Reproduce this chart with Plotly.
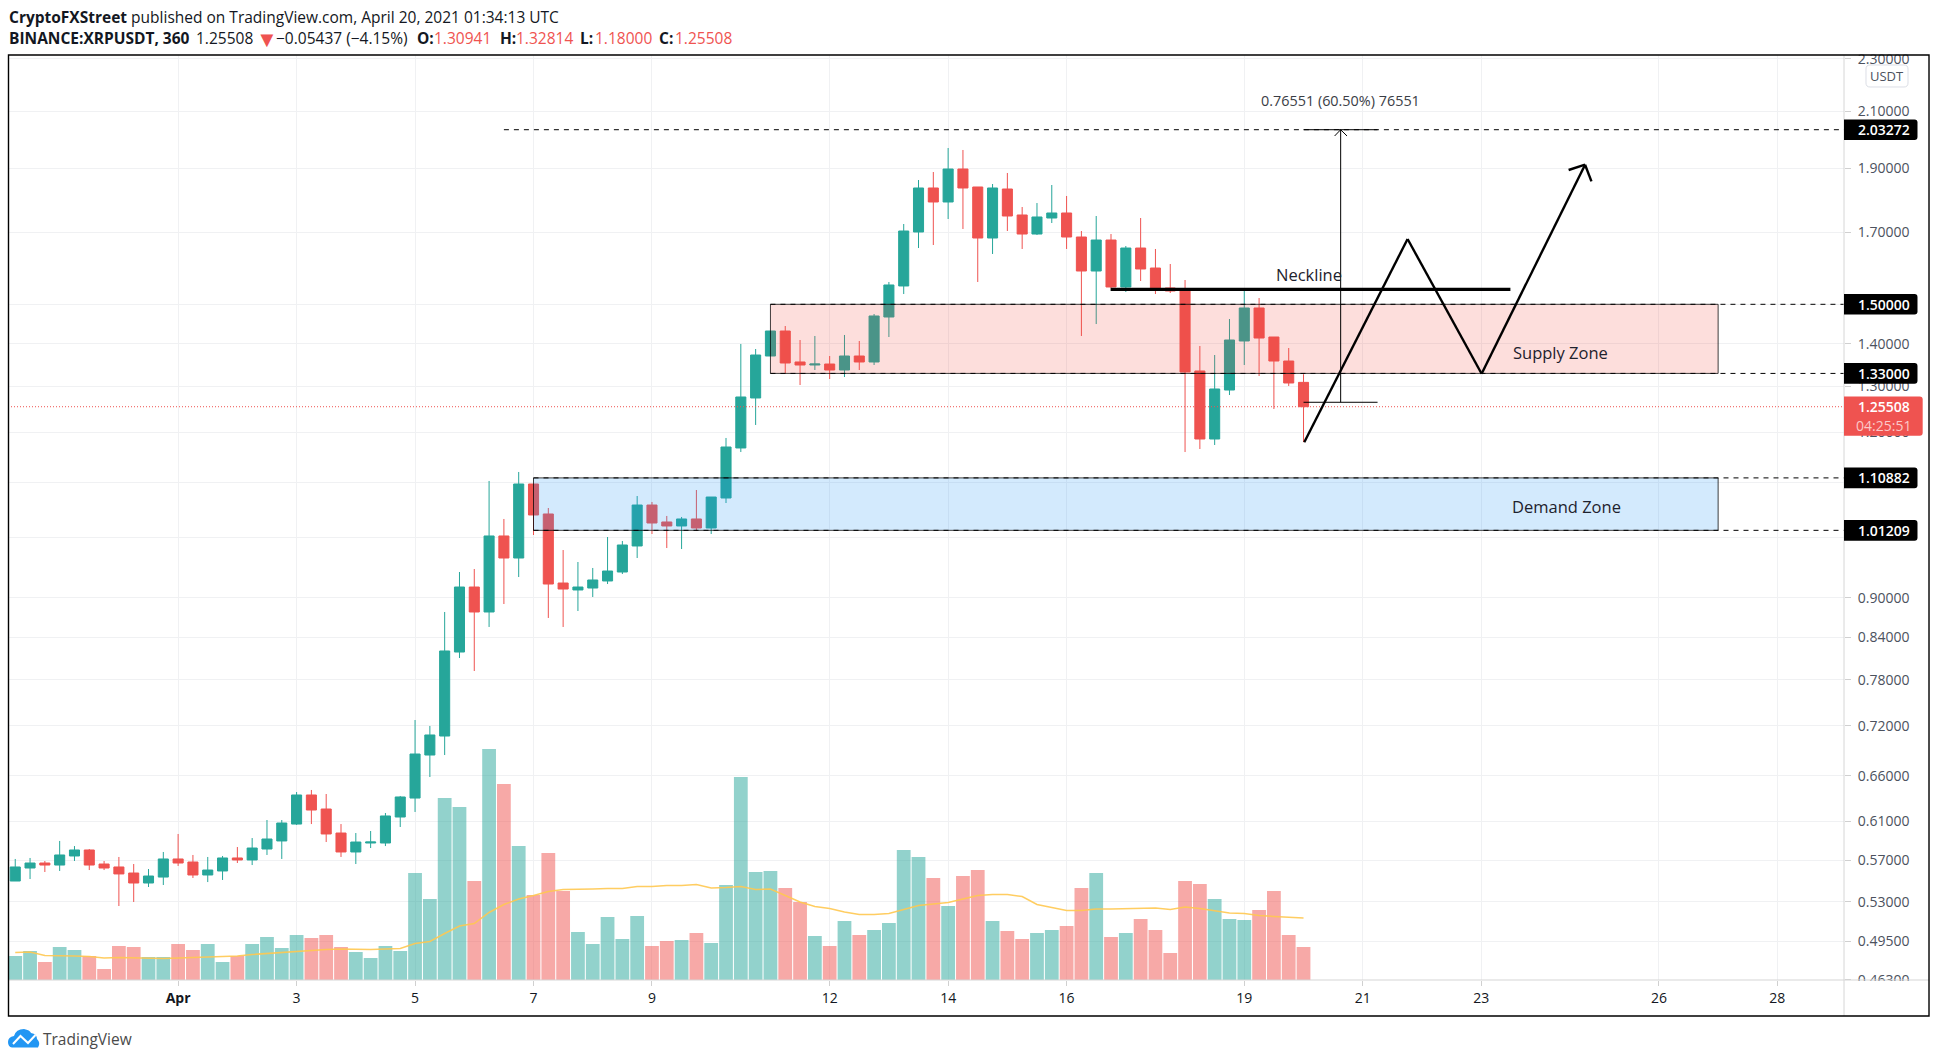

from datetime import datetime, timedelta
import math
import plotly.graph_objects as go

# ---------- data (6h bars, first bar 2021-03-29 06:00) ----------
FIRST_BAR = "2021-03-29 06:00"
opens = [0.5497,0.5623,0.5672,0.5652,0.5742,0.5802,0.5662,0.5633,0.5574,0.5478,0.5535,0.5712,0.5682,0.5555,
 0.5594,0.5722,0.5702,0.5812,0.5894,0.6070,0.6385,0.6231,0.5976,0.5782,0.5873,0.5873,0.6145,0.6351,
 0.6845,0.7075,0.8189,0.9170,0.8780,1.0022,0.9645,1.0971,1.0413,0.9234,0.9123,0.9154,0.9267,0.9413,
 0.9849,1.0577,1.0269,1.0198,1.0323,1.0162,1.0707,1.1681,1.2743,1.3709,1.4319,1.3567,1.3496,1.3519,
 1.3379,1.3709,1.3567,1.4672,1.5486,1.7012,1.8366,1.7924,1.8983,1.8398,1.6835,1.8334,1.7523,1.6952,
 1.7431,1.7584,1.6864,1.5895,1.6776,1.5459,1.6544,1.5978,1.5432,1.5378,1.3356,1.1865,1.2921,1.4072,
 1.4904,1.4170,1.3590,1.30941]
highs = [0.5712,0.5722,0.5692,0.5894,0.5842,0.5812,0.5692,0.5732,0.5662,0.5613,0.5782,0.5966,0.5752,0.5732,
 0.5742,0.5832,0.5924,0.6113,0.6113,0.6418,0.6441,0.6396,0.6070,0.5976,0.5997,0.6188,0.6374,0.7275,
 0.7200,0.8780,0.9413,0.9462,1.1029,1.0323,1.1203,1.0971,1.0522,0.9780,0.9578,0.9479,1.0004,0.9935,
 1.0744,1.0633,1.0377,1.0359,1.0857,1.0725,1.1886,1.3999,1.3877,1.4319,1.4444,1.4096,1.4195,1.3709,
 1.4220,1.4072,1.4749,1.5594,1.7250,1.8623,1.8884,1.9690,1.9622,1.8398,1.8494,1.8852,1.7768,1.7892,
 1.8462,1.8112,1.7041,1.7492,1.6952,1.6602,1.7431,1.6516,1.6090,1.5648,1.3950,1.3733,1.4621,1.5351,
 1.5165,1.4170,1.3901,1.32814]
lows = [0.5497,0.5516,0.5584,0.5594,0.5692,0.5603,0.5603,0.5263,0.5300,0.5440,0.5459,0.5643,0.5526,0.5487,
 0.5507,0.5672,0.5652,0.5752,0.5712,0.6060,0.6070,0.5883,0.5732,0.5662,0.5822,0.5842,0.6039,0.6199,
 0.6588,0.6845,0.8104,0.7923,0.8554,0.8903,0.9331,1.0039,0.8689,0.8554,0.8795,0.9012,0.9218,0.9380,
 0.9645,1.0057,0.9814,0.9797,1.0109,1.0057,1.0614,1.1599,1.2158,1.3709,1.3302,1.3034,1.3379,1.3171,
 1.3217,1.3379,1.3496,1.4170,1.5271,1.6544,1.6631,1.7401,1.7101,1.5594,1.6373,1.7041,1.6516,1.6923,
 1.7280,1.6516,1.4195,1.4494,1.5432,1.5325,1.5621,1.5271,1.5298,1.1599,1.1660,1.1742,1.2809,1.3496,
 1.3240,1.2501,1.3012,1.18000]
closes = [0.5633,0.5672,0.5652,0.5752,0.5802,0.5652,0.5623,0.5565,0.5478,0.5545,0.5712,0.5672,0.5555,0.5603,
 0.5722,0.5702,0.5822,0.5914,0.6081,0.6385,0.6220,0.5966,0.5782,0.5883,0.5883,0.6156,0.6363,0.6857,
 0.7088,0.8204,0.9170,0.8780,1.0022,0.9645,1.0971,1.0395,0.9218,0.9138,0.9170,0.9283,0.9429,0.9866,
 1.0577,1.0251,1.0198,1.0323,1.0162,1.0725,1.1701,1.2765,1.3733,1.4319,1.3543,1.3496,1.3519,1.3379,
 1.3709,1.3567,1.4698,1.5513,1.7041,1.8366,1.7924,1.8983,1.8366,1.6835,1.8366,1.7492,1.6952,1.7462,
 1.7584,1.6864,1.5895,1.6776,1.5459,1.6544,1.5951,1.5378,1.5351,1.3333,1.1865,1.2944,1.4096,1.4904,
 1.4145,1.3590,1.3080,1.25508]
volumes = [48,58,36,66,60,48,22,68,66,46,46,72,60,72,36,48,72,86,64,90,84,90,
 66,56,44,68,58,214,162,364,346,198,462,392,268,170,254,178,96,72,126,82,128,68,
 78,80,94,74,190,406,216,218,184,156,88,68,118,90,100,114,260,246,204,148,208,220,
 118,98,82,94,100,108,184,214,86,94,122,100,54,198,192,162,122,120,140,178,90,66]
volume_ma = [55,56,49,49,48,47,44,45,44,43,43,44,45,47,47,48,51,53,55,58,59,61,62,61,61,62,63,73,77,93,108,113,135,151,162,169,177,181,181,182,183,183,187,187,189,189,191,184,185,187,181,182,169,156,147,143,136,131,131,133,141,149,152,155,162,169,171,171,167,151,145,139,139,142,142,143,144,144,141,146,143,139,134,133,129,127,126,124]

price_ticks = [2.30,2.10,1.90,1.70,1.50,1.40,1.30,1.20,1.10,1.00,0.90,0.84,0.78,0.72,0.66,0.61,0.57,0.53,0.495,0.463]
price_hidden = [1.50,1.10,1.00]
date_ticks = ["2021-04-01","2021-04-03","2021-04-05","2021-04-07","2021-04-09","2021-04-12","2021-04-14","2021-04-16","2021-04-19","2021-04-21","2021-04-23","2021-04-26","2021-04-28"]
date_labels = ["<b>Apr</b>","3","5","7","9","12","14","16","19","21","23","26","28"]
last_price = 1.25508
supply_zone = (1.33, 1.50)
demand_zone = (1.01209, 1.10882)
target_price = 2.03272
level_labels = [2.03272, 1.50, 1.33, 1.10882, 1.01209]

# drawings: (time, price)
path_times  = ["2021-04-20 00:18","2021-04-21 18:10","2021-04-23 00:10","2021-04-24 18:05"]
path_prices = [1.1797, 1.6806, 1.3293, 1.9126]
barb_times  = ["2021-04-24 11:25","2021-04-24 20:40"]
barb_prices = [1.8950, 1.8581]
neck_times  = ["2021-04-16 17:50","2021-04-23 11:50"]
neck_price  = 1.5397
measure_time = "2021-04-20 15:03"
measure_span = ["2021-04-20 00:00","2021-04-21 06:00"]
measure_prices = [1.2648, 2.0327]
measure_barbs = ["2021-04-20 12:36","2021-04-20 17:38"]
measure_barb_price = 2.0106
supply_span = ["2021-04-11 00:00","2021-04-27 00:00"]
demand_span = ["2021-04-07 00:00","2021-04-27 00:00"]
target_start = "2021-04-06 12:00"
x_range = ["2021-03-29 03:04","2021-04-29 03:00"]
y_range = [0.4627, 2.3150]

W, H = 1938, 1062
L, R, T, B = 8, 1844, 55, 980
PW, PH = R - L, B - T
px = lambda x: (x - L) / PW
py = lambda y: (B - y) / PH

start = datetime.strptime(FIRST_BAR, "%Y-%m-%d %H:%M")
times = [(start + timedelta(hours=6 * i)).strftime("%Y-%m-%d %H:%M") for i in range(len(opens))]

UP, DOWN = "#26a69a", "#ef5350"
UPV, DOWNV = "rgba(38,166,154,0.5)", "rgba(239,83,80,0.5)"
FONT = "Open Sans"

fig = go.Figure()
fig.add_bar(x=times, y=volumes, yaxis="y", xaxis="x",
            marker=dict(color=[UPV if c >= o else DOWNV for o, c in zip(opens, closes)], line_width=0),
            hoverinfo="skip")
fig.add_scatter(x=times, y=volume_ma, yaxis="y", xaxis="x", mode="lines",
                line=dict(color="rgba(255,200,80,0.9)", width=1.5), hoverinfo="skip")
fig.add_candlestick(x=times, open=opens, high=highs, low=lows, close=closes, yaxis="y2", xaxis="x",
                    increasing=dict(line=dict(color=UP, width=1), fillcolor=UP),
                    decreasing=dict(line=dict(color=DOWN, width=1), fillcolor=DOWN),
                    whiskerwidth=0, hoverinfo="skip")

shapes = []
def dline(x0, y0, x1, y1, width=1, color="#000000", dash="solid"):
    shapes.append(dict(type="line", xref="x", yref="y2", x0=x0, y0=y0, x1=x1, y1=y1, layer="above",
                       line=dict(color=color, width=width, dash=dash)))

def zone(span, lo, hi, fill):
    shapes.append(dict(type="rect", xref="x", yref="y2", x0=span[0], x1=span[1], y0=lo, y1=hi, layer="above",
                       fillcolor=fill, line=dict(color="rgba(0,0,0,0.75)", width=1)))
    for p in (lo, hi):
        dline(span[0], p, x_range[1], p, dash="5px,5px")

zone(supply_span, supply_zone[0], supply_zone[1], "rgba(244,67,54,0.175)")
zone(demand_span, demand_zone[0], demand_zone[1], "rgba(33,150,243,0.2)")
dline(target_start, target_price, x_range[1], target_price, dash="5px,5px")
dline(x_range[0], last_price, x_range[1], last_price, color=DOWN, dash="1px,2px")

# measuring tool
dline(measure_time, measure_prices[0], measure_time, measure_prices[1])
for p in measure_prices:
    dline(measure_span[0], p, measure_span[1], p)
for t in measure_barbs:
    dline(t, measure_barb_price, measure_time, measure_prices[1])

# neckline + projected path
dline(neck_times[0], neck_price, neck_times[1], neck_price, width=3.2)
for i in range(len(path_times) - 1):
    dline(path_times[i], path_prices[i], path_times[i + 1], path_prices[i + 1], width=2.4)
for t, p in zip(barb_times, barb_prices):
    dline(t, p, path_times[-1], path_prices[-1], width=2.4)

# --- page furniture in page pixels ---
def ppath(cmds, fill, line=None, lw=0):
    out = []
    for c in cmds:
        if c[0] == "Z":
            out.append("Z")
        else:
            vals = c[1:]
            pts = " ".join(f"{px(vals[i]):.5f},{py(vals[i+1]):.5f}" for i in range(0, len(vals), 2))
            out.append(c[0] + " " + pts)
    shapes.append(dict(type="path", xref="paper", yref="paper", path=" ".join(out), layer="above",
                       fillcolor=fill, line=dict(color=line or "rgba(0,0,0,0)", width=lw)))

def prect(x0, y0, x1, y1, fill, line=None, lw=0):
    ppath([("M", x0, y0), ("L", x1, y0), ("L", x1, y1), ("L", x0, y1), ("Z",)], fill, line, lw)

def rlabel(x0, y0, x1, y1, fill, r=3, line=None, lw=0, left_round=False):
    l = r if left_round else 0
    ppath([("M", x0 + l, y0), ("L", x1 - r, y0), ("Q", x1, y0, x1, y0 + r), ("L", x1, y1 - r), ("Q", x1, y1, x1 - r, y1),
           ("L", x0 + l, y1), ("Q", x0, y1, x0, y1 - l), ("L", x0, y0 + l), ("Q", x0, y0, x0 + l, y0), ("Z",)], fill, line, lw)

# clip tick labels that run past the pane
prect(1845, 40, 1928, 54.4, "white")
prect(1845, 981, 1928, 1015, "white")
# axis rules and pane border
ppath([("M", 8, 980), ("L", 1929, 980)], "rgba(0,0,0,0)", "#d6d6d6", 1.2)
ppath([("M", 1844, 55), ("L", 1844, 1016)], "rgba(0,0,0,0)", "#d6d6d6", 1)
prect(8.5, 55, 1929, 1016, "rgba(0,0,0,0)", "#000000", 1.4)

annotations = []
def page_text(x, y, text, size=14, color="#131722", anchor="left", weight=None):
    f = dict(family=FONT, size=size, color=color)
    if weight:
        f["weight"] = weight
    annotations.append(dict(xref="paper", yref="paper", x=px(x), y=py(y), text=text, showarrow=False,
                            xanchor=anchor, yanchor="middle", align=anchor, borderpad=0, font=f))
def chart_text(t, p, text, size=16, color="#1e222d"):
    annotations.append(dict(xref="x", yref="y2", x=t, y=math.log10(p), text=text, showarrow=False,
                            xanchor="center", yanchor="middle", font=dict(family=FONT, size=size, color=color)))

HS = 15.5
page_text(7.5, 17, "<b>CryptoFXStreet</b> published on TradingView.com, April 20, 2021 01:34:13 UTC", HS)
for x, txt, col, sz in [(7.5, "<b>BINANCE:XRPUSDT, 360</b>", "#131722", HS), (194.5, "1.25508", "#131722", HS), (255, "▼", DOWN, 22),
                    (275, "−0.05437 (−4.15%)", "#131722", HS), (416, "<b>O:</b>", "#131722", HS), (433, "1.30941", DOWN, HS),
                    (499, "<b>H:</b>", "#131722", HS), (515, "1.32814", DOWN, HS), (579, "<b>L:</b>", "#131722", HS), (594, "1.18000", DOWN, HS),
                    (658, "<b>C:</b>", "#131722", HS), (674, "1.25508", DOWN, HS)]:
    page_text(x, 38.5, txt, sz, col)

chart_text("2021-04-20 02:20", 1.5790, "Neckline", 16.5)
chart_text("2021-04-24 08:06", 1.3787, "Supply Zone", 16.5)
chart_text("2021-04-24 10:33", 1.0543, "Demand Zone", 16.5)
chart_text("2021-04-20 14:56", 2.1369, "0.76551 (60.50%) 76551", 14.4, "#3a3d45")

# price labels on the axis
yof = lambda v: B - (math.log(v) - math.log(y_range[0])) / (math.log(y_range[1]) - math.log(y_range[0])) * PH
for lv in level_labels:
    yc = yof(lv)
    rlabel(1844, yc - 10.3, 1917.5, yc + 10.3, "#000000")
    page_text(1856.5, yc, f"{lv:.5f}", 14, "#ffffff", weight=600)
yc = yof(last_price)
rlabel(1844, yc - 10.3, 1922.7, yc + 29, DOWN)
page_text(1856.5, yc, f"{last_price:.5f}", 14, "#ffffff", weight=600)
page_text(1855.5, yc + 18.5, "04:25:51", 14, "#fbc9c8")
rlabel(1866, 65, 1908, 87, "#ffffff", r=4, line="#dcdfe6", lw=1, left_round=True)
page_text(1887, 75.5, "USDT", 13, "#4c525e", "center")

# TradingView logo
ppath([("M", 8, 1042), ("Q", 8, 1037, 14, 1036), ("Q", 16, 1029, 24, 1029), ("Q", 30, 1030, 31, 1033),
       ("Q", 37, 1034, 37, 1039), ("Q", 41, 1043, 38, 1047.5), ("L", 12, 1047.5), ("Q", 8, 1047, 8, 1042), ("Z",)], "#2296f3")
ppath([("M", 13, 1044), ("L", 20.5, 1036), ("L", 28, 1043), ("L", 35.5, 1035)], "rgba(0,0,0,0)", "#ffffff", 2)
page_text(41.5, 1039, "TradingView", 15.5, "#4a4a4a")

fig.update_layout(
    width=W, height=H, autosize=False, showlegend=False, hovermode=False,
    margin=dict(l=L, r=W - R, t=T, b=H - B, pad=0),
    paper_bgcolor="white", plot_bgcolor="white",
    bargap=0.07, boxgap=0.32, boxgroupgap=0, dragmode=False,
    font=dict(family=FONT, size=14, color="#131722"),
    xaxis=dict(type="date", range=x_range, tickmode="array", tickvals=date_ticks, ticktext=date_labels,
               showgrid=True, gridcolor="#f0f1f3", gridwidth=1, ticks="outside", ticklen=5, tickcolor="#d0d0d0",
               tickfont=dict(family=FONT, size=14, color="#131722"), showline=False, zeroline=False,
               rangeslider=dict(visible=False), anchor="y"),
    yaxis=dict(range=[0, 1850], visible=False, showgrid=False, zeroline=False, fixedrange=True),
    yaxis2=dict(type="log", overlaying="y", side="right", anchor="x",
                range=[math.log10(y_range[0]), math.log10(y_range[1])],
                tickmode="array", tickvals=price_ticks,
                ticktext=["" if v in price_hidden else f"{v:.5f}" for v in price_ticks],
                showgrid=True, gridcolor="#f0f1f3", gridwidth=1, ticks="outside", ticklen=6, tickcolor="#d0d0d0",
                tickfont=dict(family=FONT, size=14, color="#4c525e"), ticklabelstandoff=4,
                showline=False, zeroline=False),
    shapes=shapes, annotations=annotations,
)
fig.write_html("out.html", post_script="document.body.style.margin='0';document.body.style.overflow='hidden';",
               config=dict(displayModeBar=False))
